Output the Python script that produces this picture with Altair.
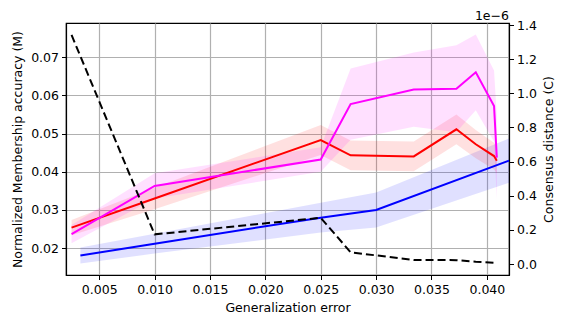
import altair as alt
import pandas as pd

# ---- data ----
x_common = [0.0025, 0.0100, 0.0250, 0.0277, 0.0334, 0.03725, 0.0390, 0.04065, 0.0409]
magenta_mean = [0.0237, 0.0363, 0.0432, 0.0577, 0.0615, 0.0617, 0.0660, 0.0572, 0.0437]
magenta_std = [0.0024, 0.0033, 0.0032, 0.0093, 0.0097, 0.0114, 0.0099, 0.0093, 0.0109]
red_mean = [0.0254, 0.0330, 0.0483, 0.0443, 0.0440, 0.0511, 0.0472, 0.0441, 0.0429]
red_std = [0.0020, 0.0028, 0.0039, 0.0039, 0.0039, 0.0039, 0.0037, 0.0035, 0.0033]

x_blue = [0.0033, 0.0100, 0.0250, 0.0300, 0.0420]
blue_mean = [0.0181, 0.0212, 0.0280, 0.0300, 0.0429]
blue_std = [0.0021, 0.0026, 0.0039, 0.0046, 0.0058]

# consensus distance, in units of 1e-6
consensus = [1.342, 0.174, 0.271, 0.069, 0.024, 0.023, 0.014, 0.008, 0.004]

x_ticks = [0.005, 0.010, 0.015, 0.020, 0.025, 0.030, 0.035, 0.040]
left_ticks = [0.02, 0.03, 0.04, 0.05, 0.06, 0.07]
right_ticks = [0.0, 0.2, 0.4, 0.6, 0.8, 1.0, 1.2, 1.4]

series_names = ["blue", "red", "magenta"]
series_colors = ["#0000ff", "#ff0000", "#ff00ff"]

rows = []
for name, xs, ms, ss in [("blue", x_blue, blue_mean, blue_std),
                         ("red", x_common, red_mean, red_std),
                         ("magenta", x_common, magenta_mean, magenta_std)]:
    for x, m, s in zip(xs, ms, ss):
        rows.append(dict(series=name, x=x, m=m, lo=m - s, hi=m + s))
df = pd.DataFrame(rows)
df_c = pd.DataFrame({"x": x_common, "c": consensus})

FONT = "DejaVu Sans"
xscale = alt.Scale(domain=[0.002, 0.042], nice=False, zero=False)
lscale = alt.Scale(domain=[0.0130, 0.0789], nice=False, zero=False)
rscale = alt.Scale(domain=[-0.064, 1.412], nice=False, zero=False)
cscale = alt.Scale(domain=series_names, range=series_colors)

x_enc = alt.X("x:Q", scale=xscale,
              axis=alt.Axis(values=x_ticks, format=".3f", title="Generalization error",
                            grid=True, titlePadding=5, labelPadding=4))

base = alt.Chart(df)
bands = base.mark_area(fillOpacity=0.12, strokeWidth=0).encode(
    x=x_enc,
    y=alt.Y("lo:Q", scale=lscale, stack=None,
            axis=alt.Axis(values=left_ticks, format=".2f", grid=True,
                          title="Normalized Membership accuracy (M)", titlePadding=6)),
    y2="hi:Q",
    color=alt.Color("series:N", scale=cscale, legend=None),
)
lines = base.mark_line(strokeWidth=2).encode(
    x=alt.X("x:Q", scale=xscale),
    y=alt.Y("m:Q", scale=lscale, axis=None),
    color=alt.Color("series:N", scale=cscale, legend=None),
)
dashed = alt.Chart(df_c).mark_line(color="black", strokeWidth=2, strokeDash=[8, 4]).encode(
    x=alt.X("x:Q", scale=xscale),
    y=alt.Y("c:Q", scale=rscale,
            axis=alt.Axis(orient="right", values=right_ticks, format=".1f", grid=False,
                          title="Consensus distance (C)", titleAngle=270,
                          titleBaseline="top", titlePadding=6)),
)
offset = alt.Chart(pd.DataFrame({"t": ["1e\u22126"]})).mark_text(
    align="right", baseline="alphabetic", font=FONT, fontSize=12.5, color="black"
).encode(x=alt.value(443), y=alt.value(-3), text="t:N")

chart = alt.layer(bands, lines, dashed, offset).resolve_scale(y="independent").properties(
    width=443, height=252,
    autosize=alt.AutoSizeParams(type="none"),
    padding={"left": 58, "top": 15, "right": 51, "bottom": 42},
).configure_view(stroke="black", strokeWidth=1.2).configure_axis(
    labelFont=FONT, labelFontSize=12.5, labelColor="black",
    titleFont=FONT, titleFontSize=12.5, titleFontWeight="normal", titleColor="black",
    gridColor="#b0b0b0", gridWidth=1.2, domainColor="black", domainWidth=1.2,
    tickColor="black", tickSize=4.5, tickWidth=1, labelPadding=3,
)

chart.save("out.html", embed_options={"renderer": "svg", "actions": False})
